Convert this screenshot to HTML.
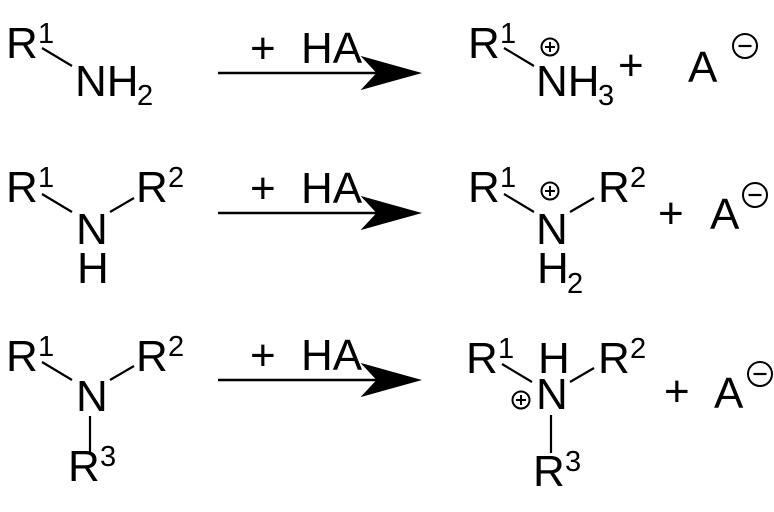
<!DOCTYPE html>
<html><head><style>body{margin:0;background:#fff}svg{display:block}text{font-family:"Liberation Sans",Arial,sans-serif;fill:#000}</style></head>
<body>
<svg width="774" height="512" viewBox="0 0 774 512" xmlns="http://www.w3.org/2000/svg">
<defs>
<g id="arrow"><line x1="218" y1="0" x2="380" y2="0" stroke="#000" stroke-width="2.5"/><path d="M418 0 L364 -15 L378 0 L364 15 Z" fill="#000"/></g>
<g id="plus"><circle cx="0" cy="0" r="8.5" fill="none" stroke="#000" stroke-width="2"/><line x1="-5" y1="0" x2="5" y2="0" stroke="#000" stroke-width="2"/><line x1="0" y1="-5" x2="0" y2="5" stroke="#000" stroke-width="2"/></g>
<g id="minus"><circle cx="0" cy="0" r="12" fill="none" stroke="#000" stroke-width="2"/><line x1="-6.5" y1="0" x2="6.5" y2="0" stroke="#000" stroke-width="2.2"/></g>
</defs>
<g font-size="44" stroke="#000" stroke-width="2.2">
<!-- Row 1 left -->
<text x="6" y="58" stroke="none">R</text><text x="38" y="43" font-size="29" stroke="none">1</text>
<line x1="42" y1="48" x2="72" y2="66"/>
<text x="75" y="96" stroke="none">NH</text><text x="137" y="105" font-size="29" stroke="none">2</text>
<use href="#arrow" y="73"/>
<text x="250" y="63" stroke="none">+</text><text x="301" y="63" stroke="none">HA</text>
<!-- Row 1 right -->
<text x="468" y="58" stroke="none">R</text><text x="500" y="43" font-size="29" stroke="none">1</text>
<line x1="504" y1="48" x2="534" y2="66"/>
<use href="#plus" x="550" y="47"/>
<text x="536" y="96" stroke="none">NH</text><text x="598" y="105" font-size="29" stroke="none">3</text>
<text x="618" y="80" stroke="none">+</text>
<text x="688" y="82" stroke="none">A</text><use href="#minus" x="745" y="46"/>
<!-- Row 2 left -->
<text x="6" y="202" stroke="none">R</text><text x="38" y="187" font-size="29" stroke="none">1</text>
<line x1="42" y1="194" x2="72" y2="212"/>
<text x="76" y="244" stroke="none">N</text>
<line x1="110" y1="212" x2="134" y2="198"/>
<text x="136" y="202" stroke="none">R</text><text x="168" y="187" font-size="29" stroke="none">2</text>
<text x="77" y="283" stroke="none">H</text>
<use href="#arrow" y="213"/>
<text x="250" y="203" stroke="none">+</text><text x="301" y="203" stroke="none">HA</text>
<!-- Row 2 right -->
<text x="468" y="202" stroke="none">R</text><text x="500" y="187" font-size="29" stroke="none">1</text>
<line x1="504" y1="194" x2="534" y2="212"/>
<use href="#plus" x="550" y="191"/>
<text x="536" y="244" stroke="none">N</text>
<line x1="570" y1="212" x2="594" y2="198"/>
<text x="598" y="202" stroke="none">R</text><text x="630" y="187" font-size="29" stroke="none">2</text>
<text x="537" y="283" stroke="none">H</text><text x="567" y="293" font-size="29" stroke="none">2</text>
<text x="658" y="228" stroke="none">+</text>
<text x="710" y="229" stroke="none">A</text><use href="#minus" x="755" y="195"/>
<!-- Row 3 left -->
<text x="6" y="371" stroke="none">R</text><text x="38" y="356" font-size="29" stroke="none">1</text>
<line x1="42" y1="362" x2="72" y2="380"/>
<text x="76" y="411" stroke="none">N</text>
<line x1="110" y1="380" x2="134" y2="366"/>
<text x="136" y="371" stroke="none">R</text><text x="168" y="356" font-size="29" stroke="none">2</text>
<line x1="90" y1="416" x2="90" y2="454"/>
<text x="68" y="481" stroke="none">R</text><text x="100" y="466" font-size="29" stroke="none">3</text>
<use href="#arrow" y="380"/>
<text x="250" y="370" stroke="none">+</text><text x="301" y="370" stroke="none">HA</text>
<!-- Row 3 right -->
<text x="466" y="373" stroke="none">R</text><text x="498" y="358" font-size="29" stroke="none">1</text>
<line x1="502" y1="364" x2="532" y2="382"/>
<text x="538" y="373" stroke="none">H</text>
<use href="#plus" x="521" y="400"/>
<text x="536" y="409" stroke="none">N</text>
<line x1="570" y1="382" x2="594" y2="368"/>
<text x="598" y="373" stroke="none">R</text><text x="630" y="358" font-size="29" stroke="none">2</text>
<line x1="551" y1="415" x2="551" y2="453"/>
<text x="533" y="486" stroke="none">R</text><text x="565" y="471" font-size="29" stroke="none">3</text>
<text x="664" y="406" stroke="none">+</text>
<text x="714" y="408" stroke="none">A</text><use href="#minus" x="760" y="374"/>
</g>
</svg>
</body></html>
